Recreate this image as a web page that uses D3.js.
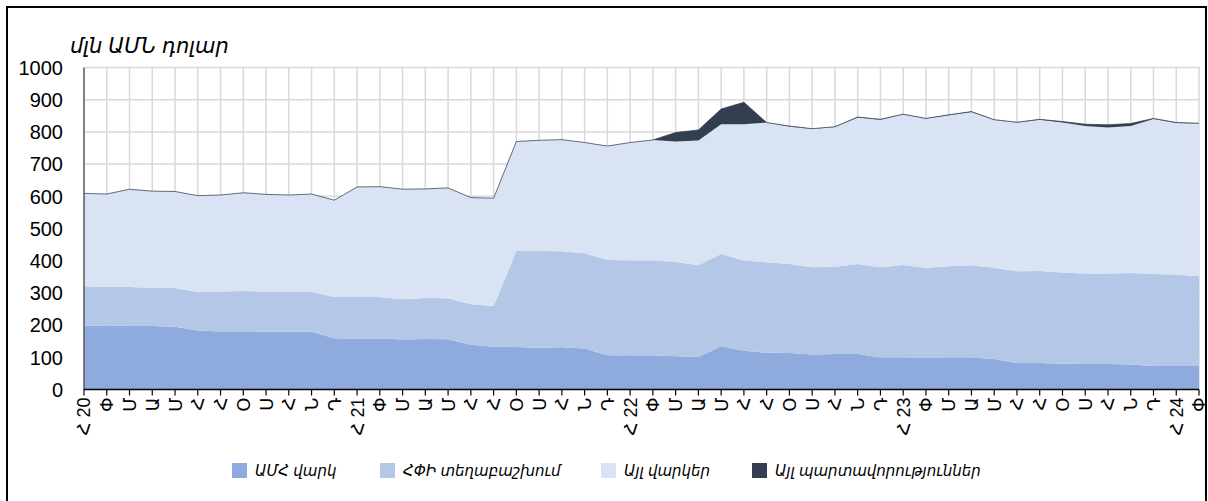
<!DOCTYPE html>
<html lang="hy">
<head>
    <meta charset="UTF-8">
    <script src="https://cdnjs.cloudflare.com/ajax/libs/d3/7.8.5/d3.min.js"></script>
    <title>Արտաքին պարտք</title>
    <style>
        body { margin: 0; background: #fff; }
        text { font-family: "Liberation Sans", Arial, "DejaVu Sans", sans-serif; fill: #000; }
    </style>
</head>
<body>

<script>

    // month labels, Jan 2020 - Feb 2024
    let months = ["Հ 20","Փ","Մ","Ա","Մ","Հ","Հ","Օ","Ս","Հ","Ն","Դ",
                  "Հ 21","Փ","Մ","Ա","Մ","Հ","Հ","Օ","Ս","Հ","Ն","Դ",
                  "Հ 22","Փ","Մ","Ա","Մ","Հ","Հ","Օ","Ս","Հ","Ն","Դ",
                  "Հ 23","Փ","Մ","Ա","Մ","Հ","Հ","Օ","Ս","Հ","Ն","Դ",
                  "Հ 24","Փ"];

    // series, mln USD
    let imfLoans = [198,198,198,197,195,183,180,181,179,179,179,159,
                    158,158,155,157,156,139,133,132,130,131,127,106,
                    106,106,103,101,134,120,114,113,109,110,110,99,
                    99,98,99,99,95,82,82,80,79,79,78,73,
                    73,73];
    let sdrAlloc = [123,121,120,119,120,120,124,125,125,124,124,128,
                    129,129,125,127,127,126,126,298,300,298,296,296,
                    295,295,294,285,287,281,281,277,271,271,280,281,
                    288,280,284,287,283,285,286,283,281,281,284,286,
                    284,279];
    let otherLoans = [288,288,304,300,300,299,300,305,302,301,304,301,
                      342,343,342,339,343,331,335,340,344,347,344,354,
                      366,374,373,387,403,423,434,427,429,434,455,458,
                      467,463,469,476,459,462,470,466,458,454,456,481,
                      471,474];
    let otherLiab = [0,0,0,0,0,0,0,0,0,0,0,0,
                     0,0,0,0,0,0,0,0,0,0,0,0,
                     0,0,28,33,47,68,0,1,1,1,1,1,
                     1,1,1,1,1,1,1,3,6,8,8,2,
                     1,1];

    let yTicks = [0,100,200,300,400,500,600,700,800,900,1000];

    let keys = ["imf", "sdr", "other", "liab"];
    let names = ["ԱՄՀ վարկ", "ՀՓԻ տեղաբաշխում", "Այլ վարկեր", "Այլ պարտավորություններ"];
    let colors = ["#8faadc", "#b4c7e7", "#dae3f3", "#333f50"];

    let data = months.map(function(m, i) {
        return {i: i, imf: imfLoans[i], sdr: sdrAlloc[i], other: otherLoans[i], liab: otherLiab[i]};
    });

    let width = 1208, height = 501;
    let plotLeft = 84, plotRight = 1199, plotTop = 67.5, plotBottom = 389.5;

    let x = d3.scalePoint().domain(d3.range(months.length)).range([plotLeft, plotRight]);
    let y = d3.scaleLinear().domain([0, 1000]).range([plotBottom, plotTop]);

    let svg = d3.select("body").append("svg")
        .attr("width", width)
        .attr("height", height);

    // outer frame
    svg.append("rect")
        .attr("x", 7).attr("y", 7)
        .attr("width", 1199).attr("height", 505)
        .attr("fill", "none")
        .attr("stroke", "#000")
        .attr("stroke-width", 2);

    // grid
    svg.append("g").selectAll("line")
        .data(yTicks.slice(1))
        .enter().append("line")
        .attr("x1", plotLeft).attr("x2", plotRight + 1)
        .attr("y1", function(d) { return y(d); })
        .attr("y2", function(d) { return y(d); })
        .attr("stroke", "#d9d9d9").attr("stroke-width", 1.5);

    svg.append("g").selectAll("line")
        .data(d3.range(1, months.length))
        .enter().append("line")
        .attr("x1", function(d) { return x(d); })
        .attr("x2", function(d) { return x(d); })
        .attr("y1", plotTop).attr("y2", plotBottom)
        .attr("stroke", "#d9d9d9").attr("stroke-width", 1.5);

    // stacked areas
    let series = d3.stack().keys(keys)(data);

    let area = d3.area()
        .x(function(d) { return x(d.data.i); })
        .y0(function(d) { return y(d[0]); })
        .y1(function(d) { return y(d[1]); });

    svg.append("g").selectAll("path")
        .data(series)
        .enter().append("path")
        .attr("d", area)
        .attr("fill", function(d, i) { return colors[i]; });

    // thin outline along the top of the stack
    let topLine = d3.line()
        .x(function(d) { return x(d.data.i); })
        .y(function(d) { return y(d[1]); });

    svg.append("path")
        .attr("d", topLine(series[3]))
        .attr("fill", "none")
        .attr("stroke", "#333f50")
        .attr("stroke-opacity", 0.75)
        .attr("stroke-width", 1);

    // y axis
    svg.append("line")
        .attr("x1", plotLeft).attr("x2", plotLeft)
        .attr("y1", plotTop).attr("y2", plotBottom)
        .attr("stroke", "#595959").attr("stroke-width", 1.5);

    svg.append("g").selectAll("text")
        .data(yTicks)
        .enter().append("text")
        .attr("x", 63)
        .attr("y", function(d) { return y(d); })
        .attr("dy", "0.36em")
        .style("text-anchor", "end")
        .style("font-size", "20px")
        .text(function(d) { return d; });

    svg.append("text")
        .attr("x", 70).attr("y", 53)
        .style("font-size", "21px")
        .style("font-style", "italic")
        .text("մլն ԱՄՆ դոլար");

    // x axis
    svg.append("line")
        .attr("x1", plotLeft).attr("x2", plotRight)
        .attr("y1", plotBottom).attr("y2", plotBottom)
        .attr("stroke", "#000").attr("stroke-width", 1.5);

    svg.append("g").selectAll("line")
        .data(d3.range(months.length))
        .enter().append("line")
        .attr("x1", function(d) { return x(d); })
        .attr("x2", function(d) { return x(d); })
        .attr("y1", plotBottom).attr("y2", plotBottom + 6)
        .attr("stroke", "#000").attr("stroke-width", 1.2);

    svg.append("g").selectAll("text")
        .data(months)
        .enter().append("text")
        .attr("transform", function(d, i) { return "translate(" + x(i) + "," + (plotBottom + 8) + ") rotate(-90)"; })
        .attr("dy", "0.36em")
        .style("text-anchor", "end")
        .style("font-size", "18px")
        .text(function(d) { return d; });

    // legend
    let legendX = [232, 380, 601, 752];
    let legend = svg.append("g").selectAll("g")
        .data(names)
        .enter().append("g")
        .attr("transform", function(d, i) { return "translate(" + legendX[i] + ",463)"; });

    legend.append("rect")
        .attr("width", 15).attr("height", 15)
        .attr("fill", function(d, i) { return colors[i]; });

    legend.append("text")
        .attr("x", 23).attr("y", 13)
        .style("font-size", "15px")
        .style("font-style", "italic")
        .text(function(d) { return d; });

</script>

</body>
</html>
